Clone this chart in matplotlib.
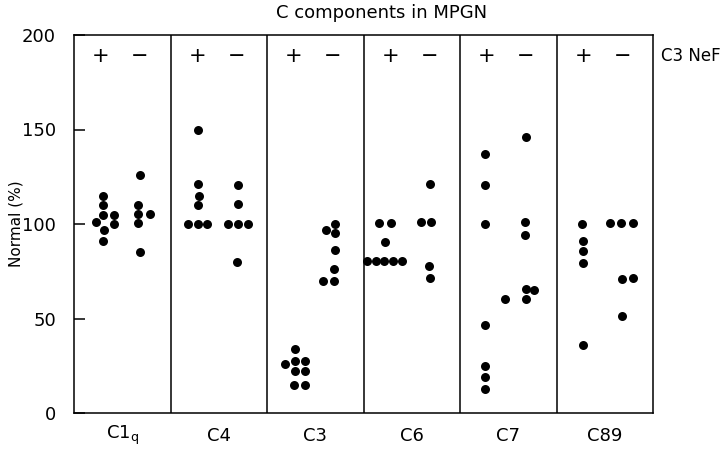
import matplotlib
matplotlib.use("Agg")
import matplotlib.pyplot as plt

# C components in MPGN, % of normal, split by C3 nephritic factor (+ / -)
components = ["C1q", "C4", "C3", "C6", "C7", "C89"]
labels = ["C1$_\\mathregular{q}$", "C4", "C3", "C6", "C7", "C89"]

nef_pos = [
    [115, 110, 105, 105, 101, 100, 97, 91],
    [150, 121, 115, 110, 100, 100, 100],
    [34, 26, 27.7, 27.7, 22, 22, 15, 15],
    [100.5, 100.5, 90.3, 80.6, 80.6, 80.6, 80.6, 80.6],
    [137, 120.5, 100, 46.7, 25, 19, 12.5],
    [100, 91, 85.5, 79.5, 36],
]
nef_neg = [
    [126, 110, 105.5, 105.5, 100.5, 85],
    [120.5, 110.5, 100, 100, 100, 80],
    [100, 97, 95, 86, 76.4, 70, 70],
    [121, 101.2, 101.2, 77.8, 71.4],
    [146, 101, 94.2, 65.6, 65.1, 60.2, 60.1],
    [100.5, 100.5, 100.5, 71, 71.5, 51.5],
]
# side-by-side slots of the dots (in dot widths), as drawn in the figure
slot_pos = [
    [0.2, 0.2, 0.2, 1.3, -0.5, 1.3, 0.3, 0.2],
    [0, 0, 0.15, 0, -0.95, 0, 0.95],
    [0.1, -0.9, 0.1, 1.15, 0.15, 1.15, 0, 1.15],
    [-1.15, 0.05, -0.55, -2.4, -1.55, -0.65, 0.25, 1.15],
    [-0.2, -0.2, -0.2, -0.2, -0.2, -0.2, -0.2],
    [-0.2, -0.1, -0.1, -0.1, -0.1],
]
slot_neg = [
    [0, -0.2, -0.2, 1.1, -0.2, 0],
    [0.2, 0.2, -0.8, 0.2, 1.25, 0.1],
    [0.2, -0.65, 0.2, 0.2, 0.15, -1.0, 0.15],
    [0.1, -0.85, 0.2, 0, 0.1],
    [0, -0.1, -0.1, 0, 0.9, -2.1, 0],
    [-1.3, -0.1, 1.1, 0, 1.1, 0],
]

plt.rcParams["font.family"] = ["DejaVu Sans"]

pos_x = 0.28
neg_x = 0.68
dot_w = 0.1

fig = plt.figure(figsize=(7.27, 4.51), dpi=100)
ax = fig.add_axes([74 / 727, 1 - 413 / 451, 579 / 727, 378 / 451])

for i in range(len(components)):
    xs = [i + pos_x + s * dot_w for s in slot_pos[i]]
    ax.scatter(xs, nef_pos[i], s=42, color="black", linewidths=0, zorder=3)
    xs = [i + neg_x + s * dot_w for s in slot_neg[i]]
    ax.scatter(xs, nef_neg[i], s=42, color="black", linewidths=0, zorder=3)
    ax.text(i + pos_x, 189, "+", ha="center", va="center", fontsize=15)
    ax.text(i + neg_x, 189, "\u2212", ha="center", va="center", fontsize=15)
    ax.text(i + 0.5, -12, labels[i], ha="center", va="center", fontsize=13)
    if i > 0:
        ax.axvline(i, color="black", lw=1.1)

ax.set_xlim(0, len(components))
ax.set_ylim(0, 200)
ax.set_xticks([])
ax.set_yticks([0, 50, 100, 150, 200])
ax.tick_params(axis="y", direction="in", length=8, width=1.1, labelsize=13, pad=13)
for sp in ax.spines.values():
    sp.set_linewidth(1.1)

ax.set_ylabel("Normal (%)", fontsize=11)
ax.yaxis.set_label_coords(-0.088, 0.5)
fig.text(382 / 727, 1 - 13 / 451, "C components in MPGN", ha="center",
         va="center", fontsize=13)
ax.text(1.014, 189, "C3 NeF", transform=ax.get_yaxis_transform(),
        ha="left", va="center", fontsize=12)

fig.savefig("out.png", dpi=100)
